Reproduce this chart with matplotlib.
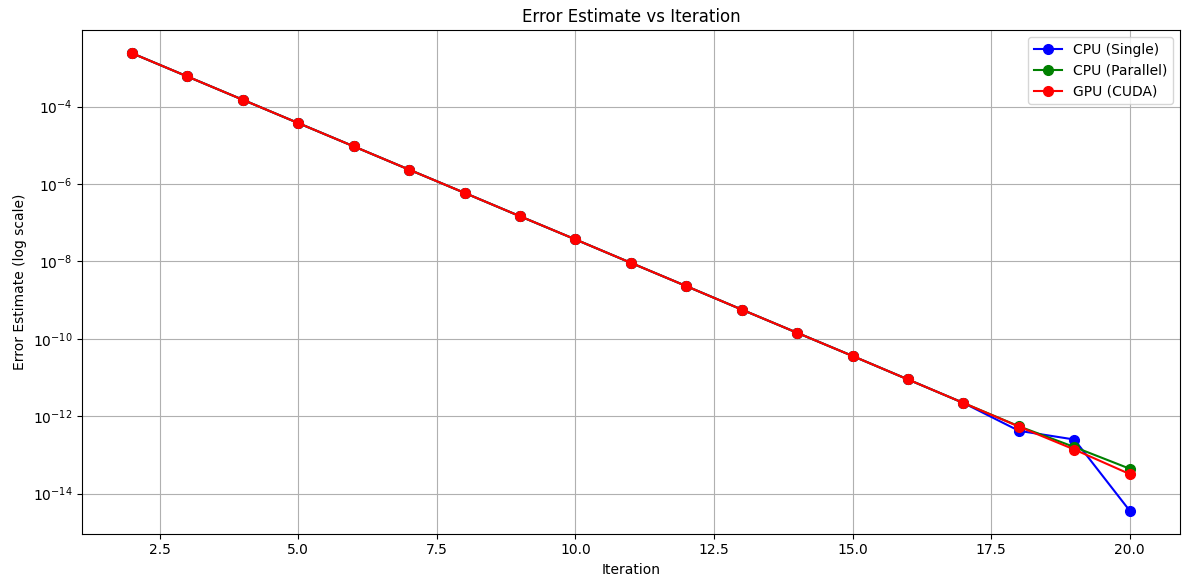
import matplotlib
matplotlib.use("Agg")
import matplotlib.pyplot as plt

iterations = list(range(2, 21))

# shared part of the curve (iterations 2-17)
common = [2.4e-3, 6.0e-4, 1.5e-4, 3.75e-5, 9.4e-6, 2.35e-6, 5.9e-7, 1.47e-7,
          3.7e-8, 9.2e-9, 2.3e-9, 5.7e-10, 1.43e-10, 3.6e-11, 8.9e-12, 2.2e-12]

cpu_single = common + [4.2e-13, 2.5e-13, 3.6e-15]
cpu_parallel = common + [5.5e-13, 1.6e-13, 4.4e-14]
gpu_cuda = common + [5.4e-13, 1.38e-13, 3.2e-14]

plt.figure(figsize=(11.88, 5.82), dpi=100)
plt.plot(iterations, cpu_single, 'o-', color='blue', markersize=7, label='CPU (Single)')
plt.plot(iterations, cpu_parallel, 'o-', color='green', markersize=7, label='CPU (Parallel)')
plt.plot(iterations, gpu_cuda, 'o-', color='red', markersize=7, label='GPU (CUDA)')
plt.yscale('log')
plt.xlabel('Iteration')
plt.ylabel('Error Estimate (log scale)')
plt.title('Error Estimate vs Iteration')
plt.legend()
plt.grid(True)
plt.subplots_adjust(left=0.069, right=0.993, top=0.948, bottom=0.083)
plt.savefig('out.png')
